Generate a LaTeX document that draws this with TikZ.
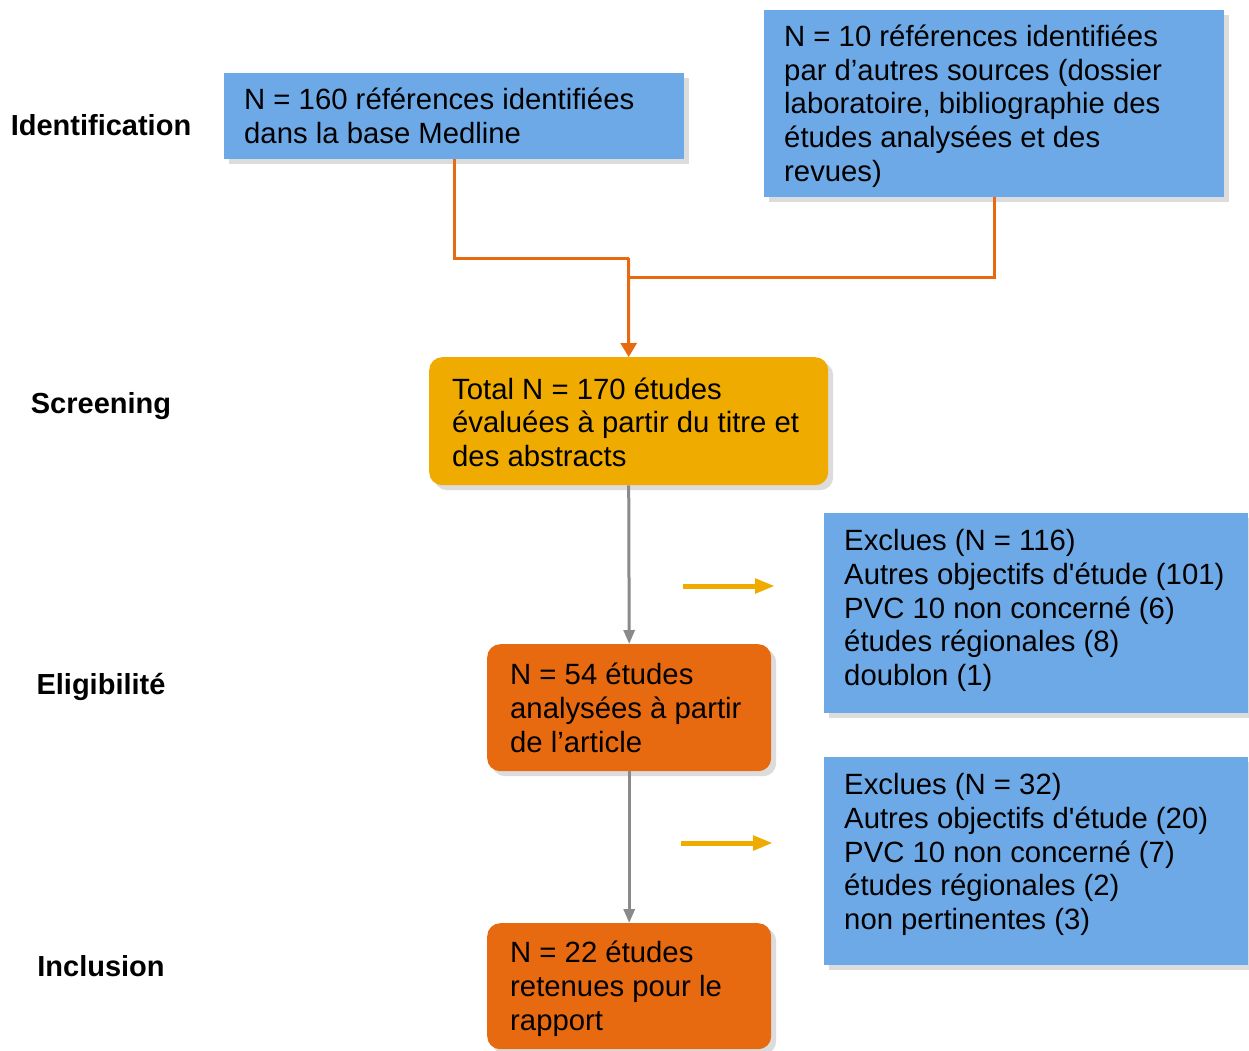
\documentclass[tikz,border=0pt]{standalone}
\usepackage{fontspec}
\setmainfont{Liberation Sans}[Ligatures=TeXOff]
\usetikzlibrary{shadows,arrows.meta}
\definecolor{bl}{HTML}{6DA9E6}
\definecolor{ye}{HTML}{F0AB00}
\definecolor{og}{HTML}{E86A10}
\definecolor{sh}{HTML}{DCDCDC}
\definecolor{gr}{HTML}{8A8A8A}
\newcommand{\bxt}[4]{\begin{minipage}[c][#1pt][#3]{#2pt}\raggedright\fontsize{29.3}{33.8}\selectfont #4\end{minipage}}
\begin{document}
\begin{tikzpicture}[x=1pt,y=-1pt,
  box/.style={inner xsep=20pt, inner ysep=0pt, anchor=north west,
    drop shadow={shadow xshift=5pt,shadow yshift=-5pt,fill=sh,opacity=1}},
  bluebox/.style={box,fill=bl},
  yebox/.style={box,fill=ye,rounded corners=13pt,inner xsep=23pt},
  ogbox/.style={box,fill=og,rounded corners=13pt,inner xsep=23pt},
  phase/.style={font=\fontsize{29}{34}\selectfont\bfseries},
  oline/.style={draw=og,line width=3pt},
  gline/.style={draw=gr,line width=3pt,-{Triangle[length=14pt,width=11pt]}},
  yline/.style={draw=ye,line width=5pt,-{Triangle[length=20pt,width=14pt]}}]
\useasboundingbox (0,0) rectangle (1249,1050);
\fill[white] (0,0) rectangle (1249,1050);

\node[phase] (pid) at (101,125) {Identification};
\node[phase] (psc) at (101,406) {Screening};
\node[phase] (pel) at (101,687) {Eligibilité};
\node[phase] (pin) at (101,966) {Inclusion};

\node[bluebox] (b1) at (224,73) {\bxt{86}{420}{c}{N = 160 références identifiées\\dans la base Medline}};
\node[bluebox] (b2) at (764,10) {\bxt{187}{420}{c}{\vspace*{5pt}N = 10 références identifiées\\par d’autres sources (dossier\\laboratoire, bibliographie des\\études analysées et des\\revues)}};
\node[yebox] (b3) at (429,357) {\bxt{128}{353}{c}{\vspace*{2pt}Total N = 170 études\\évaluées à partir du titre et\\des abstracts}};
\node[ogbox] (b4) at (487,644) {\bxt{127}{238}{c}{N = 54 études\\analysées à partir\\de l’article}};
\node[ogbox] (b5) at (487,923) {\bxt{126}{238}{c}{\vspace*{5pt}N = 22 études\\retenues pour le\\rapport}};
\node[bluebox] (b6) at (824,513) {\bxt{200}{384}{t}{\vspace*{16pt}Exclues (N = 116)\\Autres objectifs d'étude (101)\\PVC 10 non concerné (6)\\études régionales (8)\\doublon (1)}};
\node[bluebox] (b7) at (824,757) {\bxt{208}{384}{t}{\vspace*{16pt}Exclues (N = 32)\\Autres objectifs d'étude (20)\\PVC 10 non concerné (7)\\études régionales (2)\\non pertinentes (3)}};

\coordinate (m1) at (628.5,258);
\coordinate (m2) at (628.5,277);
\draw[oline] (b1.south) |- (m1);
\draw[oline] (b2.south) |- (m2);
\draw[oline,-{Triangle[length=14pt,width=16pt]}] (m1) -- (b3.north);

\draw[gline] (b3.south) -- (b4.north);
\draw[gline] (b4.south) -- (b5.north);

\coordinate (y1s) at (683,586);
\coordinate (y1e) at (775,586);
\coordinate (y2s) at (681,843);
\coordinate (y2e) at (773,843);
\draw[yline] (y1s) -- (y1e);
\draw[yline] (y2s) -- (y2e);
\end{tikzpicture}
\end{document}
